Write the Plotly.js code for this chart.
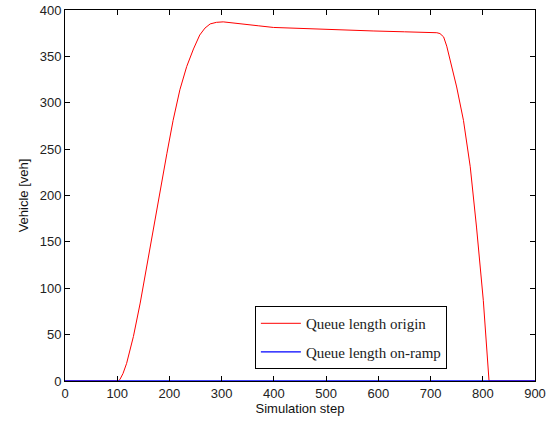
<!DOCTYPE html>
<html>
<head>
<meta charset="utf-8">
<script src="https://cdn.plot.ly/plotly-3.0.1.min.js"></script>
<style>html,body{margin:0;padding:0;background:#fff;}#chart{width:555px;height:423px;}</style>
</head>
<body>
<div id="chart"></div>
<script>
// Queue length at origin
var originSteps = [0, 100, 102, 105, 111, 118, 131, 144, 156, 169, 182, 195, 207, 220, 233, 246, 258, 268, 278, 290, 303, 320, 341, 370, 399, 450, 495, 540, 590, 650, 700, 712, 718, 725, 731, 737, 750, 763, 776, 788, 801, 812, 900];
var originQueue = [0, 0, 0, 1.5, 8, 19, 48, 84, 123, 163, 206, 245, 281, 314, 339, 358, 373, 380.5, 385, 386.7, 387.2, 386.3, 385, 383, 381.2, 380, 379, 378.2, 377.4, 376.5, 375.8, 375.5, 374.6, 371, 361, 347, 317, 281, 231, 166, 87, 0, 0];
// Queue length on-ramp
var rampSteps = [0, 900];
var rampQueue = [0, 0];

var xTicks = [0, 100, 200, 300, 400, 500, 600, 700, 800, 900];
var yTicks = [0, 50, 100, 150, 200, 250, 300, 350, 400];

var traces = [
  {x: originSteps, y: originQueue, type: 'scatter', mode: 'lines', name: 'Queue length origin',
   legendgroup: 'a', line: {color: '#ff0000', width: 1}},
  {x: rampSteps, y: rampQueue, type: 'scatter', mode: 'lines', name: 'Queue length on-ramp',
   legendgroup: 'b', line: {color: '#0000ff', width: 1.3}}
];

var axisCommon = {
  showline: true, linecolor: '#000', linewidth: 1, mirror: 'ticks',
  ticks: 'inside', ticklen: 5, tickcolor: '#000', tickwidth: 1,
  showgrid: false, zeroline: false,
  tickfont: {family: 'Liberation Sans, Arial, sans-serif', size: 13, color: '#222'}
};

var layout = {
  width: 555, height: 423,
  margin: {l: 65, r: 20, t: 10, b: 42},
  paper_bgcolor: '#fff', plot_bgcolor: '#fff',
  showlegend: true,
  xaxis: Object.assign({}, axisCommon, {
    range: [0, 900], tickvals: xTicks, ticktext: xTicks.map(String),
    title: {text: 'Simulation step', standoff: 2, font: {family: 'Liberation Sans, Arial, sans-serif', size: 13, color: '#111'}}
  }),
  yaxis: Object.assign({}, axisCommon, {
    range: [0, 400], tickvals: yTicks, ticktext: yTicks.map(String),
    title: {text: 'Vehicle [veh]', standoff: 8, font: {family: 'Liberation Sans, Arial, sans-serif', size: 13, color: '#111'}}
  }),
  legend: {
    x: 0.404, y: 0.202, xanchor: 'left', yanchor: 'top',
    bordercolor: '#000', borderwidth: 1, bgcolor: '#fff',
    traceorder: 'grouped', tracegroupgap: 6,
    font: {family: 'Liberation Serif, serif', size: 15, color: '#222'},
    itemwidth: 40
  }
};

Plotly.newPlot('chart', traces, layout, {displayModeBar: false, staticPlot: true});
</script>
</body>
</html>
